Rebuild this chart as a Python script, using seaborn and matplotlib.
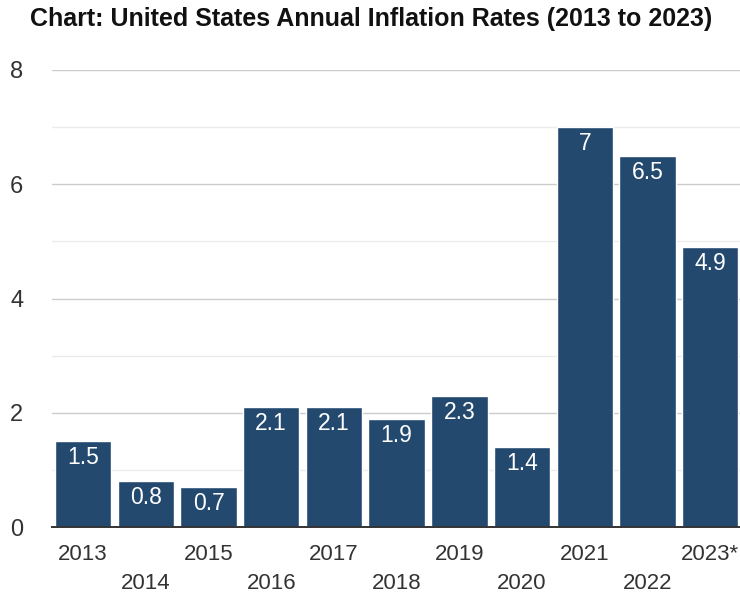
import matplotlib
matplotlib.use("Agg")
import matplotlib.pyplot as plt
import seaborn as sns
import pandas as pd

years = ["2013", "2014", "2015", "2016", "2017", "2018", "2019", "2020", "2021", "2022", "2023*"]
rates = [1.5, 0.8, 0.7, 2.1, 2.1, 1.9, 2.3, 1.4, 7.0, 6.5, 4.9]
value_labels = ["1.5", "0.8", "0.7", "2.1", "2.1", "1.9", "2.3", "1.4", "7", "6.5", "4.9"]

bar_color = "#24496f"

sns.set_theme(style="white")
plt.rcParams["font.family"] = ["Liberation Sans", "DejaVu Sans"]

df = pd.DataFrame({"year": years, "rate": rates})

fig = plt.figure(figsize=(7.4, 5.97), dpi=100)
ax = fig.add_axes([0.070, 0.117, 0.932, 0.766])

sns.barplot(data=df, x="year", y="rate", color=bar_color, width=0.9,
            saturation=1, ax=ax, zorder=3)

ax.set_ylim(0, 8)
ax.set_xlim(-0.5, len(years) - 0.5)
ax.set_yticks([0, 2, 4, 6, 8])
ax.set_yticks([1, 3, 5, 7], minor=True)
ax.grid(axis="y", which="major", color="#cccccc", linewidth=1, zorder=0)
ax.grid(axis="y", which="minor", color="#ebebeb", linewidth=1, zorder=0)
ax.set_axisbelow(True)

for side in ["top", "right", "left"]:
    ax.spines[side].set_visible(False)
ax.spines["bottom"].set_color("#333333")
ax.spines["bottom"].set_linewidth(1.4)
ax.spines["bottom"].set_zorder(5)

# staggered x labels
ax.set_xticks(range(len(years)))
ax.set_xticklabels([y if i % 2 == 0 else "\n" + y for i, y in enumerate(years)],
                   fontsize=16, color="#333333", linespacing=1.5)
ax.tick_params(axis="x", length=0, pad=12)
ax.tick_params(axis="y", length=0, pad=30, labelsize=17, labelcolor="#333333")
ax.tick_params(axis="y", which="minor", length=0)
for lbl in ax.get_yticklabels():
    lbl.set_horizontalalignment("left")
ax.set_xlabel("")
ax.set_ylabel("")

for i, (v, t) in enumerate(zip(rates, value_labels)):
    ax.text(i, v - 0.29, t, ha="center", va="center", color="white",
            fontsize=16.5, zorder=4)

fig.text(0.502, 0.968, "Chart: United States Annual Inflation Rates (2013 to 2023)",
         ha="center", va="center", fontsize=18, fontweight="bold", color="#111111")

fig.savefig("out.png", dpi=100)
